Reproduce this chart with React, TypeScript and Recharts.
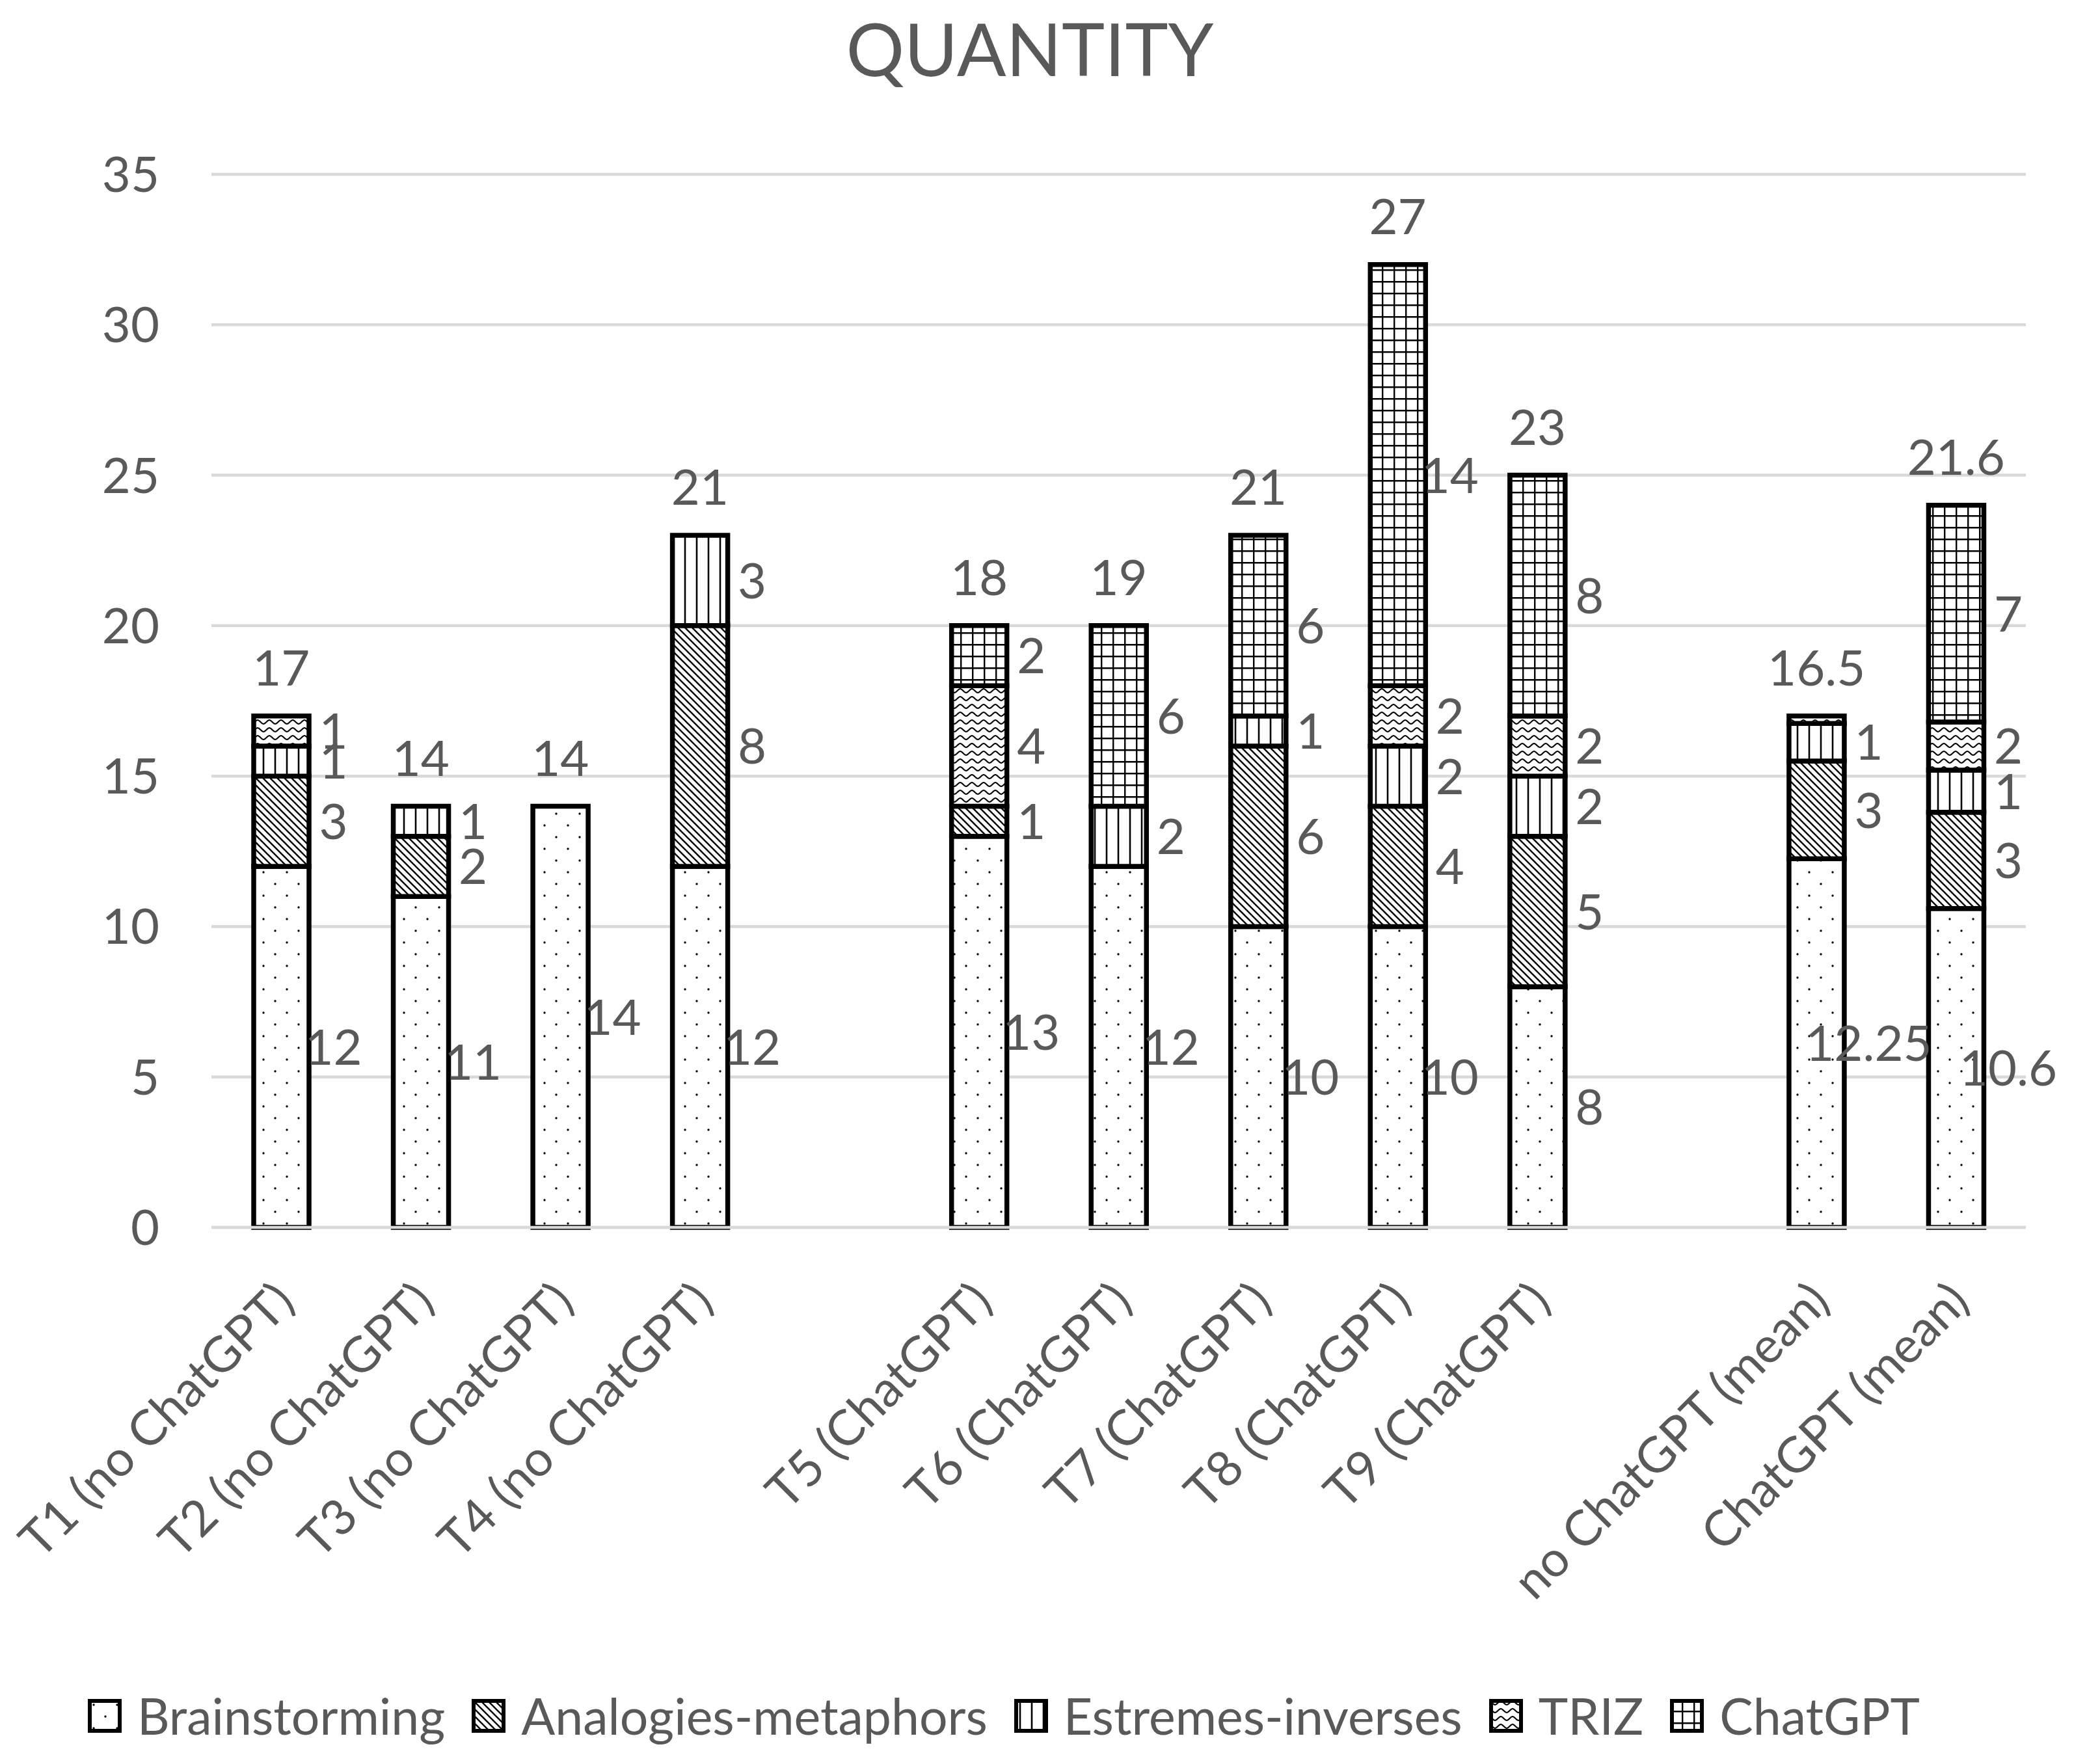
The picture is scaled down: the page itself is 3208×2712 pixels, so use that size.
import React from "react";
import { ComposedChart, Bar, Line, XAxis, YAxis, CartesianGrid, LabelList } from "recharts";

// two empty categories separate the groups
const categories = [
  "T1 (no ChatGPT)",
  "T2 (no ChatGPT)",
  "T3 (no ChatGPT)",
  "T4 (no ChatGPT)",
  "",
  "T5 (ChatGPT)",
  "T6 (ChatGPT)",
  "T7 (ChatGPT)",
  "T8 (ChatGPT)",
  "T9 (ChatGPT)",
  "",
  "no ChatGPT (mean)",
  "ChatGPT (mean)",
];

const brainstorming = [12, 11, 14, 12, null, 13, 12, 10, 10, 8, null, 12.25, 10.6];
const analogies = [3, 2, 0, 8, null, 1, 0, 6, 4, 5, null, 3.25, 3.2];
const estremes = [1, 1, 0, 3, null, 0, 2, 1, 2, 2, null, 1.25, 1.4];
const triz = [1, 0, 0, 0, null, 4, 0, 0, 2, 2, null, 0.25, 1.6];
const chatgpt = [0, 0, 0, 0, null, 2, 6, 6, 14, 8, null, 0, 7.2];

// totals printed above the columns (as in the source sheet)
const totalLabels = ["17", "14", "14", "21", "", "18", "19", "21", "27", "23", "", "16.5", "21.6"];

const yTicks = [0, 5, 10, 15, 20, 25, 30, 35];

const W = 3208;
const H = 2712;
const TEXT = "#595959";
const GRID = "#d9d9d9";
const FONT = "Lato, 'Open Sans', sans-serif";
const FS = 76;

const SERIES = [
  { key: "brainstorming", name: "Brainstorming", fill: "url(#pat-dots)", raw: true },
  { key: "analogies", name: "Analogies-metaphors", fill: "url(#pat-diag)", raw: false },
  { key: "estremes", name: "Estremes-inverses", fill: "url(#pat-vert)", raw: false },
  { key: "triz", name: "TRIZ", fill: "url(#pat-wave)", raw: false },
  { key: "chatgpt", name: "ChatGPT", fill: "url(#pat-grid)", raw: false },
];

const data = categories.map((name, i) => ({
  name,
  brainstorming: brainstorming[i],
  analogies: analogies[i],
  estremes: estremes[i],
  triz: triz[i],
  chatgpt: chatgpt[i],
  stackTop:
    brainstorming[i] == null
      ? null
      : (brainstorming[i] as number) +
        (analogies[i] as number) +
        (estremes[i] as number) +
        (triz[i] as number) +
        (chatgpt[i] as number),
}));

function Patterns() {
  return (
    <defs>
      <pattern id="pat-dots" patternUnits="userSpaceOnUse" width="36" height="36">
        <rect width="36" height="36" fill="#fff" />
        <circle cx="9" cy="9" r="1.7" fill="#000" />
        <circle cx="27" cy="27" r="1.7" fill="#000" />
      </pattern>
      <pattern id="pat-diag" patternUnits="userSpaceOnUse" width="11" height="11">
        <rect width="11" height="11" fill="#fff" />
        <path d="M-3,-3 L14,14 M-3,8 L3,14 M8,-3 L14,3" stroke="#000" strokeWidth="2.4" />
      </pattern>
      <pattern id="pat-vert" patternUnits="userSpaceOnUse" width="18" height="18">
        <rect width="18" height="18" fill="#fff" />
        <path d="M9,0 L9,18" stroke="#000" strokeWidth="2.6" />
      </pattern>
      <pattern id="pat-wave" patternUnits="userSpaceOnUse" width="18" height="12">
        <rect width="18" height="12" fill="#fff" />
        <path d="M0,3 C3,3 6,9 9,9 C12,9 15,3 18,3" stroke="#000" strokeWidth="2" fill="none" />
      </pattern>
      <pattern id="pat-grid" patternUnits="userSpaceOnUse" width="18" height="18">
        <rect width="18" height="18" fill="#fff" />
        <path d="M1,0 L1,18 M0,1 L18,1" stroke="#000" strokeWidth="2.8" />
      </pattern>
    </defs>
  );
}

function XTick(props: any) {
  const { x, y, payload } = props;
  if (!payload || !payload.value) return null;
  const ax = Number(x) + 24;
  const ay = Number(y) + 118;
  return (
    <text
      x={ax}
      y={ay}
      transform={`rotate(-45, ${ax}, ${ay})`}
      textAnchor="end"
      fontSize={FS}
      fontFamily={FONT}
      fill={TEXT}
    >
      {payload.value}
    </text>
  );
}

const segLabel = (raw: boolean) => (props: any) => {
  const { x, y, width, height } = props;
  let v = props.value;
  if (Array.isArray(v)) v = v[1] - v[0];
  if (v == null || v === 0) return null;
  const txt = raw ? String(v) : String(Math.round(Number(v)));
  if (txt === "0") return null;
  return (
    <text
      x={Number(x) + Number(width) / 2 + 80}
      y={Number(y) + Number(height) / 2}
      dy="0.36em"
      textAnchor="middle"
      fontSize={FS}
      fontFamily={FONT}
      fill={TEXT}
    >
      {txt}
    </text>
  );
};

const totalLabel = (props: any) => {
  const { x, y, index } = props;
  const t = totalLabels[index];
  if (!t || y == null) return null;
  return (
    <text
      x={Number(x)}
      y={Number(y) - 74}
      dy="0.36em"
      textAnchor="middle"
      fontSize={FS}
      fontFamily={FONT}
      fill={TEXT}
    >
      {t}
    </text>
  );
};

function Legend() {
  return (
    <div
      style={{
        position: "absolute",
        left: 0,
        top: 2599,
        width: 3086,
        height: 77,
        display: "flex",
        justifyContent: "center",
        alignItems: "center",
        fontFamily: FONT,
        fontSize: 77,
        lineHeight: "77px",
        color: TEXT,
        whiteSpace: "nowrap",
      }}
    >
      {SERIES.map((s, i) => (
        <div
          key={s.key}
          style={{ display: "flex", alignItems: "center", marginRight: i < SERIES.length - 1 ? 41 : 0 }}
        >
          <svg width={52} height={52} style={{ marginRight: 24, display: "block" }}>
            <rect x={3} y={3} width={46} height={46} fill={s.fill} stroke="#000" strokeWidth={6} />
          </svg>
          <span>{s.name}</span>
        </div>
      ))}
    </div>
  );
}

export default function App() {
  return (
    <div style={{ position: "absolute", left: 0, top: 0, width: W, height: H, background: "#fff" }}>
      <svg
        width={W}
        height={H}
        style={{ position: "absolute", left: 0, top: 0, pointerEvents: "none" }}
      >
        <Patterns />
        <text x={1583} y={117} textAnchor="middle" fontSize={112} fontFamily={FONT} fill={TEXT}>
          QUANTITY
        </text>
      </svg>
      <div style={{ position: "absolute", left: 0, top: 0 }}>
        <ComposedChart
          width={W}
          height={H}
          data={data}
          margin={{ top: 268, right: 94, bottom: 0, left: 0 }}
        >
          <CartesianGrid vertical={false} stroke={GRID} strokeWidth={4.5} />
          <XAxis
            dataKey="name"
            interval={0}
            height={825}
            tickLine={false}
            tickSize={0}
            tickMargin={0}
            axisLine={{ stroke: GRID, strokeWidth: 4.5 }}
            tick={(p: any) => <XTick {...p} />}
          />
          <YAxis
            width={325}
            domain={[0, 35]}
            ticks={yTicks}
            tickLine={false}
            tickSize={0}
            tickMargin={80}
            axisLine={false}
            tick={{ fontSize: FS, fill: TEXT, fontFamily: FONT }}
          />
          {SERIES.map((s) => (
            <Bar
              key={s.key}
              dataKey={s.key}
              name={s.name}
              stackId="a"
              barSize={85}
              fill={s.fill}
              stroke="#000"
              strokeWidth={7.5}
              isAnimationActive={false}
            >
              <LabelList dataKey={s.key} content={segLabel(s.raw)} />
            </Bar>
          ))}
          <Line
            dataKey="stackTop"
            stroke="none"
            dot={false}
            activeDot={false}
            legendType="none"
            isAnimationActive={false}
          >
            <LabelList dataKey="stackTop" content={totalLabel} />
          </Line>
        </ComposedChart>
      </div>
      <Legend />
    </div>
  );
}
